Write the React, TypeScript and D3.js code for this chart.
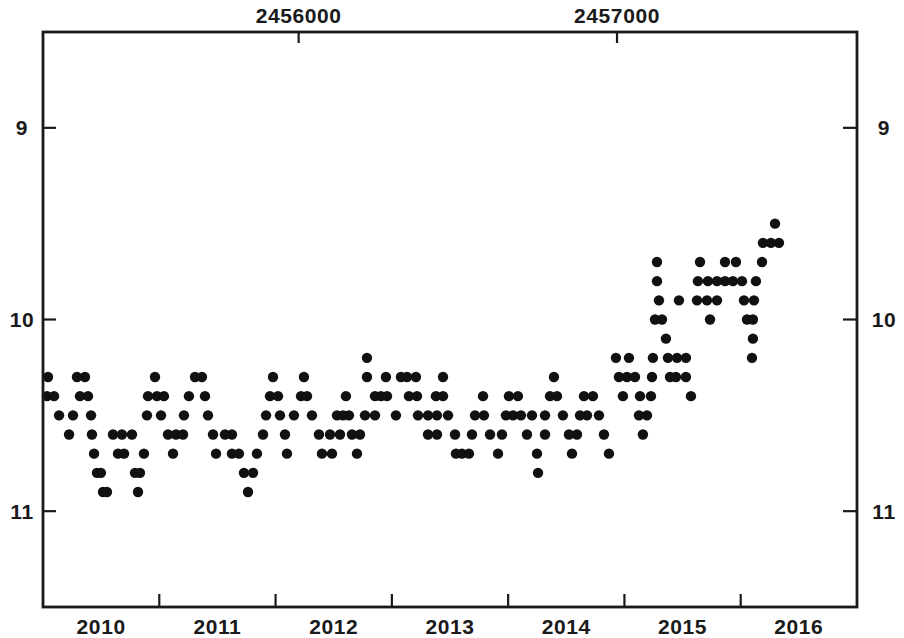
import React from "react";
import * as d3 from "d3";

// Light curve: visual magnitude estimates on a 0.1 mag grid, epochs in decimal years.
const epochs95 = [2016.295];
const epochs96 = [2016.191, 2016.26, 2016.329];
const epochs97 = [2015.28, 2015.65, 2015.865, 2015.959, 2016.183];
const epochs98 = [2015.28, 2015.632, 2015.718, 2015.796, 2015.865, 2015.933, 2016.011, 2016.131];
const epochs99 = [2015.297, 2015.469, 2015.624, 2015.71, 2015.796, 2016.028, 2016.114];
const epochs100 = [2015.263, 2015.323, 2015.736, 2016.054, 2016.105];
const epochs101 = [2015.357, 2016.105];
const epochs102 = [2012.786, 2014.927, 2015.039, 2015.245, 2015.374, 2015.452, 2015.529, 2016.097];
const epochs103 = [
  2010.043, 2010.292, 2010.361, 2010.963, 2011.307, 2011.367, 2011.978, 2012.244, 2012.786,
  2012.949, 2013.078, 2013.13, 2013.207, 2013.44, 2014.394, 2014.953, 2015.022, 2015.091,
  2015.237, 2015.392, 2015.443, 2015.529,
];
const epochs104 = [
  2010.034, 2010.095, 2010.318, 2010.387, 2010.903, 2010.98, 2011.04, 2011.255, 2011.393,
  2011.952, 2012.021, 2012.219, 2012.27, 2012.605, 2012.855, 2012.906, 2012.958, 2013.147,
  2013.216, 2013.379, 2013.44, 2013.784, 2014.007, 2014.084, 2014.36, 2014.42, 2014.652,
  2014.729, 2014.987, 2015.134, 2015.228, 2015.572,
];
const epochs105 = [
  2010.138, 2010.258, 2010.413, 2010.894, 2011.015, 2011.212, 2011.419, 2011.918, 2012.038,
  2012.158, 2012.313, 2012.528, 2012.58, 2012.631, 2012.769, 2012.855, 2013.035, 2013.225,
  2013.311, 2013.388, 2013.483, 2013.715, 2013.792, 2013.981, 2014.042, 2014.11, 2014.205,
  2014.317, 2014.471, 2014.618, 2014.678, 2014.781, 2015.125, 2015.194,
];
const epochs106 = [
  2010.224, 2010.421, 2010.602, 2010.679, 2010.765, 2011.075, 2011.144, 2011.204, 2011.462,
  2011.565, 2011.625, 2011.892, 2012.081, 2012.373, 2012.468, 2012.554, 2012.657, 2012.726,
  2013.311, 2013.388, 2013.543, 2013.689, 2013.844, 2013.947, 2014.162, 2014.317, 2014.523,
  2014.592, 2014.824, 2015.159,
];
const epochs107 = [
  2010.439, 2010.645, 2010.697, 2010.868, 2011.118, 2011.488, 2011.625, 2011.685, 2011.84,
  2012.098, 2012.399, 2012.485, 2012.7, 2013.551, 2013.603, 2013.663, 2013.913, 2014.248,
  2014.549, 2014.867,
];
const epochs108 = [2010.464, 2010.498, 2010.791, 2010.834, 2011.728, 2011.806, 2014.257];
const epochs109 = [2010.516, 2010.55, 2010.817, 2011.763];

const magnitudeLevels = [9.5, 9.6, 9.7, 9.8, 9.9, 10.0, 10.1, 10.2, 10.3, 10.4, 10.5, 10.6, 10.7, 10.8, 10.9];
const epochsByLevel = [
  epochs95, epochs96, epochs97, epochs98, epochs99, epochs100, epochs101, epochs102,
  epochs103, epochs104, epochs105, epochs106, epochs107, epochs108, epochs109,
];

// Axis annotations
const magTicks = [9, 10, 11];
const yearBoundaries = [2011, 2012, 2013, 2014, 2015, 2016];
const yearLabels = [2010, 2011, 2012, 2013, 2014, 2015, 2016];
const jdTicks = [2456000, 2457000];

const W = 904;
const H = 638;
const frame = { left: 43, right: 857, top: 32, bottom: 607 };

const jdToYear = (jd: number) => 2000 + (jd - 2451544.5) / 365.25;

export default function App() {
  const x = d3.scaleLinear().domain([2010, 2017]).range([frame.left, frame.right]);
  const y = d3.scaleLinear().domain([8.5, 11.5]).range([frame.top, frame.bottom]);

  const points = magnitudeLevels.flatMap((m, i) => epochsByLevel[i].map((t) => ({ t, m })));

  const font = {
    fontFamily: "'Liberation Sans', Arial, sans-serif",
    fontWeight: 700,
    fontSize: 21,
    letterSpacing: 0.6,
    fill: "#1a1a1a",
  } as const;

  return (
    <div style={{ position: "absolute", left: 0, top: 0 }}>
      <svg width={W} height={H} viewBox={`0 0 ${W} ${H}`} style={{ display: "block", background: "#fff" }}>
        {/* data points */}
        <g fill="#111">
          {points.map((p, i) => (
            <circle key={i} cx={x(p.t)} cy={y(p.m)} r={5.2} />
          ))}
        </g>

        {/* frame */}
        <rect
          x={frame.left}
          y={frame.top}
          width={frame.right - frame.left}
          height={frame.bottom - frame.top}
          fill="none"
          stroke="#1a1a1a"
          strokeWidth={2.8}
        />

        {/* magnitude ticks on both sides, year and JD ticks */}
        <g stroke="#1a1a1a" strokeWidth={2.2}>
          {magTicks.map((m) => (
            <g key={m}>
              <line x1={frame.left} x2={frame.left + 13} y1={y(m)} y2={y(m)} />
              <line x1={frame.right - 14} x2={frame.right} y1={y(m)} y2={y(m)} />
            </g>
          ))}
          {yearBoundaries.map((yr) => (
            <line key={yr} x1={x(yr)} x2={x(yr)} y1={frame.bottom} y2={frame.bottom - 13} />
          ))}
          {jdTicks.map((jd) => (
            <line key={jd} x1={x(jdToYear(jd))} x2={x(jdToYear(jd))} y1={frame.top} y2={frame.top + 11} />
          ))}
        </g>

        {/* labels */}
        <g {...font} textAnchor="middle" dominantBaseline="central">
          {magTicks.map((m) => (
            <g key={m}>
              <text x={22} y={y(m)}>{m}</text>
              <text x={884} y={y(m)}>{m}</text>
            </g>
          ))}
          {yearLabels.map((yr) => (
            <text key={yr} x={x(yr + 0.5)} y={626}>{yr}</text>
          ))}
          {jdTicks.map((jd) => (
            <text key={jd} x={x(jdToYear(jd))} y={15}>{jd}</text>
          ))}
        </g>
      </svg>
    </div>
  );
}
